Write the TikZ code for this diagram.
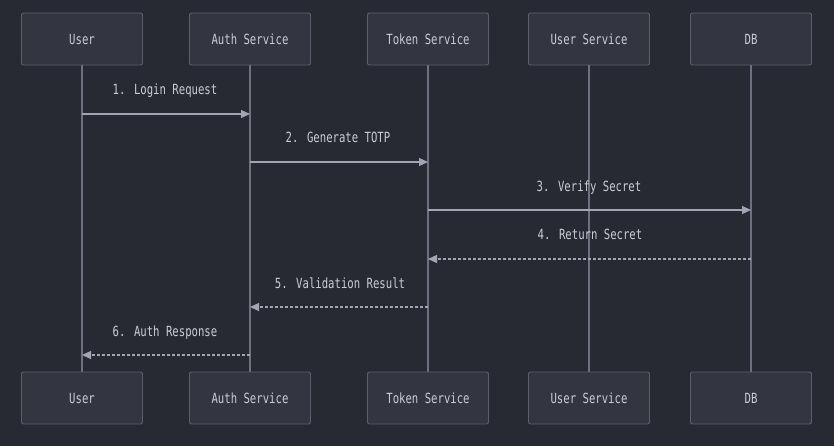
\documentclass[tikz,border=0pt]{standalone}
\usepackage{fontspec}
\newfontfamily\diafont[FakeStretch=0.76]{DejaVu Sans Mono}
\usetikzlibrary{arrows.meta}
\definecolor{bg}{HTML}{282A33}
\definecolor{boxfill}{HTML}{333641}
\definecolor{boxline}{HTML}{5C5F6C}
\definecolor{txt}{HTML}{CACDD8}
\definecolor{life}{HTML}{6E717F}
\definecolor{msg}{HTML}{A3A6B2}
\tikzset{
  actor/.style={draw=boxline, fill=boxfill, rounded corners=2pt, line width=0.9pt,
    minimum width=121pt, minimum height=52pt, inner sep=0pt, text=txt,
    font=\diafont\fontsize{14}{16}\selectfont},
  lifeline/.style={draw=life, line width=1.2pt},
  call/.style={draw=msg, line width=1.2pt, -{Triangle[length=9pt,width=8pt]}},
  reply/.style={draw=msg, line width=1.2pt, dash pattern=on 3pt off 2pt, -{Triangle[length=9pt,width=8pt]}},
  msglabel/.style={text=txt, font=\diafont\fontsize{14}{16}\selectfont, inner sep=0pt,
    text height=10.5pt, text depth=3pt}
}
\begin{document}
\begin{tikzpicture}[x=1pt,y=-1pt]
\fill[bg] (0,0) rectangle (834,446);
\useasboundingbox (0,0) rectangle (834,446);
% lifelines first
\foreach \n/\x in {u/82,a/250,t/428,s/589,d/751}{
  \coordinate (\n top) at (\x,65);
  \coordinate (\n bot) at (\x,372);
  \draw[lifeline] (\n top) -- (\n bot);
}
\node[actor] (ut) at (82,39) {User};
\node[actor] (at) at (250,39) {Auth Service};
\node[actor] (tt) at (428,39) {Token Service};
\node[actor] (st) at (589,39) {User Service};
\node[actor] (dt) at (751,39) {DB};
\node[actor] (ub) at (82,398) {User};
\node[actor] (ab) at (250,398) {Auth Service};
\node[actor] (tb) at (428,398) {Token Service};
\node[actor] (sb) at (589,398) {User Service};
\node[actor] (db) at (751,398) {DB};
% message anchor points
\coordinate (m1s) at (82,114);  \coordinate (m1e) at (250,114);
\coordinate (m2s) at (250,162); \coordinate (m2e) at (428,162);
\coordinate (m3s) at (428,210); \coordinate (m3e) at (751,210);
\coordinate (m4s) at (751,259); \coordinate (m4e) at (428,259);
\coordinate (m5s) at (428,307); \coordinate (m5e) at (250,307);
\coordinate (m6s) at (250,355); \coordinate (m6e) at (82,355);
\draw[call] (m1s) -- (m1e);
\draw[call] (m2s) -- (m2e);
\draw[call] (m3s) -- (m3e);
\draw[reply] (m4s) -- (m4e);
\draw[reply] (m5s) -- (m5e);
\draw[reply] (m6s) -- (m6e);
\node[msglabel] (l1) at (165,91) {1. Login Request};
\node[msglabel] (l2) at (338,139) {2. Generate TOTP};
\node[msglabel] (l3) at (589,188) {3. Verify Secret};
\node[msglabel] (l4) at (590,236) {4. Return Secret};
\node[msglabel] (l5) at (340,285) {5. Validation Result};
\node[msglabel] (l6) at (165,333) {6. Auth Response};
\end{tikzpicture}
\end{document}
